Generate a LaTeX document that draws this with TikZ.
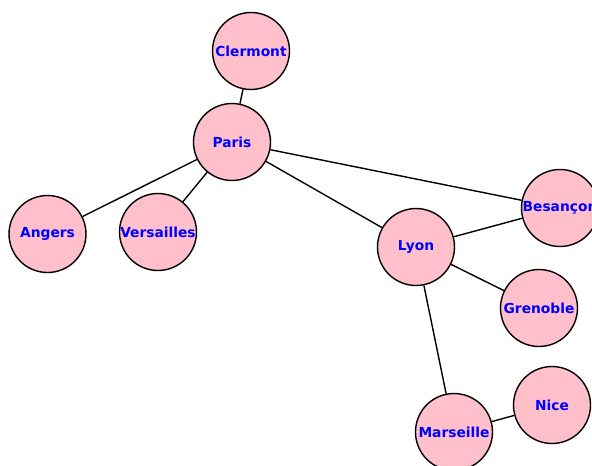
\documentclass[tikz,border=0pt]{standalone}
\usepackage{fontspec}
\setmainfont{DejaVu Sans}
\definecolor{cpink}{RGB}{255,192,203}
\definecolor{cblue}{RGB}{0,0,255}
\begin{document}
\begin{tikzpicture}[x=1pt,y=-1pt,
  city/.style={circle,draw=black,line width=1.4pt,fill=cpink,minimum size=77pt,inner sep=0pt,
    text=cblue,font=\bfseries\fontsize{13.8}{15}\selectfont},
  link/.style={line width=1.4pt,draw=black}]
\useasboundingbox (0,0) rectangle (592,466);
\clip (0,0) rectangle (592,466);
\node[city] (clermont) at (251,51) {Clermont};
\node[city] (paris) at (232,142) {Paris};
\node[city] (angers) at (47.5,234) {Angers};
\node[city] (versailles) at (158,232) {Versailles};
\node[city] (lyon) at (416,247) {Lyon};
\node[city] (besancon) at (560,208) {Besançon};
\node[city] (grenoble) at (539,308) {Grenoble};
\node[city] (nice) at (552,405) {Nice};
\node[city] (marseille) at (454,432) {Marseille};
\draw[link] (clermont) -- (paris);
\draw[link] (paris) -- (angers);
\draw[link] (paris) -- (versailles);
\draw[link] (paris) -- (lyon);
\draw[link] (paris) -- (besancon);
\draw[link] (lyon) -- (besancon);
\draw[link] (lyon) -- (grenoble);
\draw[link] (lyon) -- (marseille);
\draw[link] (marseille) -- (nice);
\end{tikzpicture}
\end{document}
